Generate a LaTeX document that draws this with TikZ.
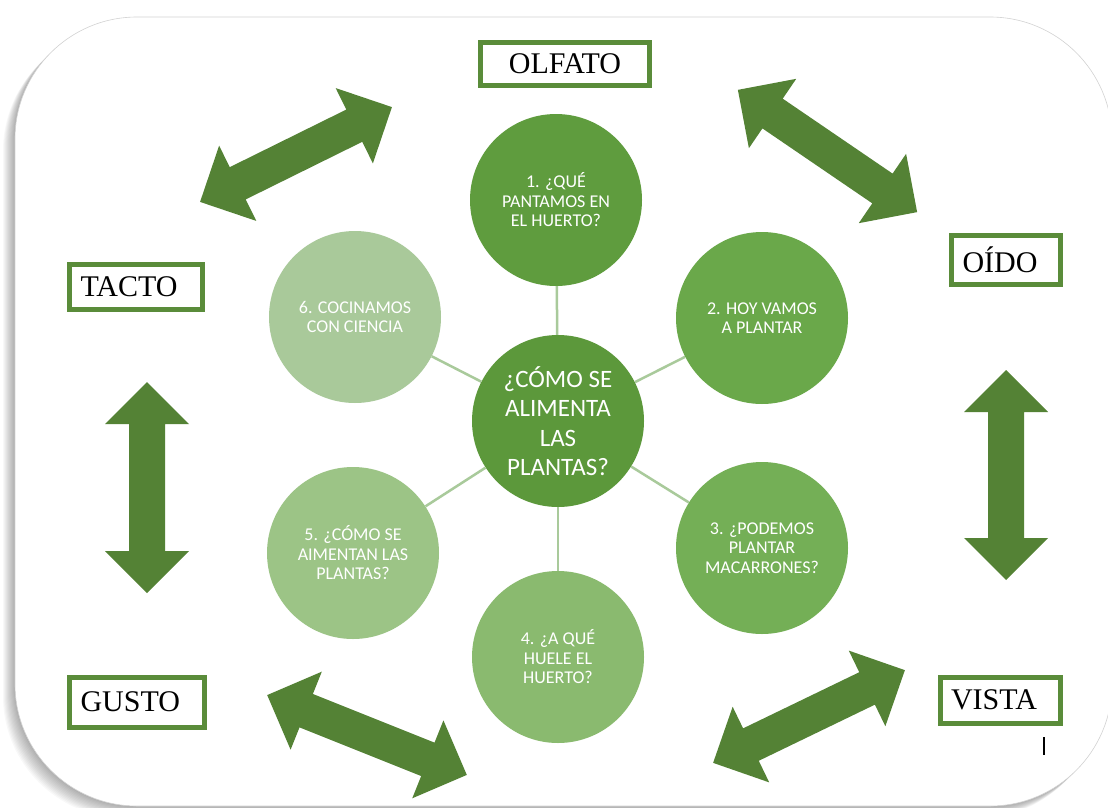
\documentclass[tikz,border=0pt]{standalone}
\usepackage{fontspec}
\setmainfont{Liberation Serif}
\newfontfamily\circlefont{Carlito}

\definecolor{arrowgreen}{HTML}{548235}
\definecolor{boxgreen}{HTML}{5A8C3A}
\definecolor{spokegreen}{HTML}{A9CA9B}
\definecolor{hubgreen}{HTML}{5C983B}
\definecolor{topicone}{HTML}{5F9C3E}
\definecolor{topictwo}{HTML}{6AA84A}
\definecolor{topicthree}{HTML}{74AF56}
\definecolor{topicfour}{HTML}{8ABA6F}
\definecolor{topicfive}{HTML}{9CC486}
\definecolor{topicsix}{HTML}{A9C99A}

\tikzset{
  sense/.style={draw=boxgreen,line width=5pt,fill=white,inner xsep=11pt,inner ysep=0pt,
    align=left,font=\fontsize{30}{32}\selectfont},
  topic/.style={circle,minimum size=172pt,inner sep=0pt,text=white,align=center,
    font=\circlefont\fontsize{18}{19.5}\selectfont},
  spoke/.style={draw=spokegreen,line width=2.5pt},
  pics/sensearrow/.style={code={
    \fill[arrowgreen] (-#1/2,0) -- (-#1/2+42,42) -- (-#1/2+42,18) -- (#1/2-42,18)
      -- (#1/2-42,42) -- (#1/2,0) -- (#1/2-42,-42) -- (#1/2-42,-18)
      -- (-#1/2+42,-18) -- (-#1/2+42,-42) -- cycle;
  }}
}

\begin{document}
\begin{tikzpicture}[x=1pt,y=-1pt]
    \useasboundingbox[fill=white] (0,0) rectangle (1108,808);
    % frame with its shadow
    \foreach \d in {1,...,12}
      \fill[black,opacity=0.028,rounded corners=122pt,xshift=-\d pt,yshift=-\d pt] (15,17) rectangle (1112,806);
    \draw[gray!35,fill=white,line width=0.6pt,rounded corners=122pt] (15,17) rectangle (1112,806);

    % senses
    \node[sense,text width=147pt,align=center,minimum height=43pt] at (565,64) (olfato) {OLFATO};
    \node[sense,text width=111pt,minimum height=45pt] at (136,287) (tacto) {TACTO};
    \node[sense,text width=87pt,minimum height=49pt] at (1006,260) (oido) {OÍDO};
    \node[sense,text width=113pt,minimum height=50pt] at (137,702) (gusto) {GUSTO};
    \node[sense,text width=98pt,minimum height=46pt] at (1000,700) (vista) {VISTA};

    \pic[rotate=26.3] at (296,154.5) {sensearrow=214};
    \pic[rotate=-34.3] at (827.5,151) {sensearrow=217};
    \pic[rotate=90] at (147,487.5) {sensearrow=211};
    \pic[rotate=90] at (1006,475) {sensearrow=210};
    \pic[rotate=-21.8] at (367,735) {sensearrow=215};
    \pic[rotate=25.8] at (809,716.5) {sensearrow=213};

    % topics round the question
    \node[topic,fill=hubgreen,font=\circlefont\fontsize{25}{29.5}\selectfont] at (558,421) (hub)
      {¿CÓMO SE\\ALIMENTA\\LAS\\PLANTAS?};
    \node[topic,fill=topicone] at (556,200) (t1) {1. ¿QUÉ\\PANTAMOS EN\\EL HUERTO?};
    \node[topic,fill=topictwo] at (762,318) (t2) {2. HOY VAMOS\\A PLANTAR};
    \node[topic,fill=topicthree] at (762,548) (t3) {3. ¿PODEMOS\\PLANTAR\\MACARRONES?};
    \node[topic,fill=topicfour] at (558,657) (t4) {4. ¿A QUÉ\\HUELE EL\\HUERTO?};
    \node[topic,fill=topicfive] at (353,553) (t5) {5. ¿CÓMO SE\\AIMENTAN LAS\\PLANTAS?};
    \node[topic,fill=topicsix] at (355,317) (t6) {6. COCINAMOS\\CON CIENCIA};
    \foreach \t in {t1,t2,t3,t4,t5,t6}
      \draw[spoke] (hub) -- (\t);

    \draw[line width=1.2pt] (1044,737) -- (1044,755);
  \end{tikzpicture}
\end{document}
